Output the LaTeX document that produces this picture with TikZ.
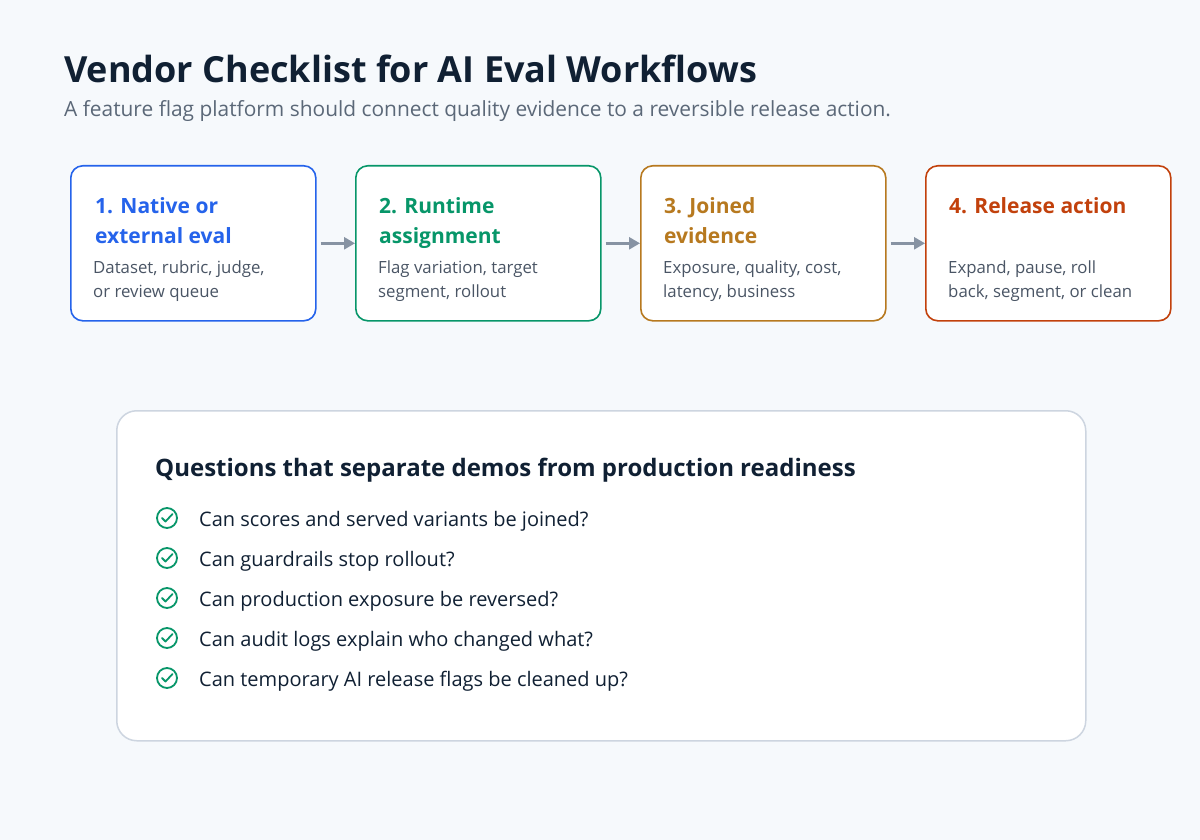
\documentclass[tikz,border=0pt]{standalone}
\usepackage{fontspec}
\setmainfont{Open Sans}
\usetikzlibrary{arrows.meta,calc}
\definecolor{bg}{HTML}{F6F9FC}
\definecolor{ink}{HTML}{102033}
\definecolor{sub}{HTML}{5B6878}
\definecolor{body}{HTML}{4A5565}
\definecolor{cb}{HTML}{2563EB}
\definecolor{cg}{HTML}{079669}
\definecolor{ca}{HTML}{B7791F}
\definecolor{cr}{HTML}{C2410C}
\definecolor{arr}{HTML}{8793A3}
\definecolor{pb}{HTML}{CDD5E0}
\begin{document}
\begin{tikzpicture}[x=1pt,y=-1pt,
 step/.style={draw=#1,line width=1.6pt,fill=white,rounded corners=12pt,minimum width=245pt,minimum height=155pt,anchor=north west},
 ttl/.style={anchor=north west,text=#1,font=\fontsize{21}{30}\selectfont\bfseries,align=left,inner sep=0pt},
 dsc/.style={anchor=north west,text=body,font=\fontsize{16.8}{24}\selectfont,align=left,inner sep=0pt},
 con/.style={draw=arr,line width=2.5pt,-{Triangle[length=11pt,width=12pt]}},
 chk/.style={draw=cg,line width=1.8pt,circle,minimum size=20pt,inner sep=0pt},
 item/.style={anchor=west,text=ink,font=\fontsize{20}{22}\selectfont,inner sep=0pt}]
\fill[bg] (0,0) rectangle (1200,840);
\useasboundingbox (0,0) rectangle (1200,840);
\node[anchor=base west,text=ink,font=\fontsize{36}{40}\selectfont\bfseries,inner sep=0pt] (t) at (64,83) {Vendor Checklist for AI Eval Workflows};
\node[anchor=base west,text=sub,font=\fontsize{20.9}{24}\selectfont,inner sep=0pt] (s) at (64,117) {A feature flag platform should connect quality evidence to a reversible release action.};
\node[step=cb] (b1) at (70,165) {};
\node[step=cg] (b2) at (355,165) {};
\node[step=ca] (b3) at (640,165) {};
\node[step=cr] (b4) at (925,165) {};
\node[ttl=cb] (t1) at (95,197) {1. Native or\\external eval};
\node[ttl=cg] (t2) at (379,197) {2. Runtime\\assignment};
\node[ttl=ca] (t3) at (664,197) {3. Joined\\evidence};
\node[ttl=cr] (t4) at (949,197) {4. Release action};
\node[dsc] (d1) at (93,261) {Dataset, rubric, judge,\\or review queue};
\node[dsc] (d2) at (378,261) {Flag variation, target\\segment, rollout};
\node[dsc] (d3) at (663,261) {Exposure, quality, cost,\\latency, business};
\node[dsc] (d4) at (948,261) {Expand, pause, roll\\back, segment, or clean};
\draw[con] ($(b1.east)+(4,0)$) -- (b2.west);
\draw[con] ($(b2.east)+(4,0)$) -- (b3.west);
\draw[con] ($(b3.east)+(4,0)$) -- (b4.west);
\node[draw=pb,line width=1.5pt,fill=white,rounded corners=20pt,minimum width=969pt,minimum height=330pt,anchor=north west] (p) at (116,410) {};
\node[anchor=base west,text=ink,font=\fontsize{24}{26}\selectfont\bfseries,inner sep=0pt] (h) at (155,476) {Questions that separate demos from production readiness};
\foreach \y/\t [count=\i] in {518/Can scores and served variants be joined?,558/Can guardrails stop rollout?,598/Can production exposure be reversed?,638/Can audit logs explain who changed what?,678/Can temporary AI release flags be cleaned up?}{
 \node[chk] (c\i) at (167,\y) {};
 \draw[cg,line width=1.8pt,line cap=round,line join=round] ($(c\i)+(-5,0)$) -- ($(c\i)+(-1.5,3.5)$) -- ($(c\i)+(5.5,-4)$);
 \node[item] (q\i) at (199,\y+3) {\t};
}
\end{tikzpicture}
\end{document}
